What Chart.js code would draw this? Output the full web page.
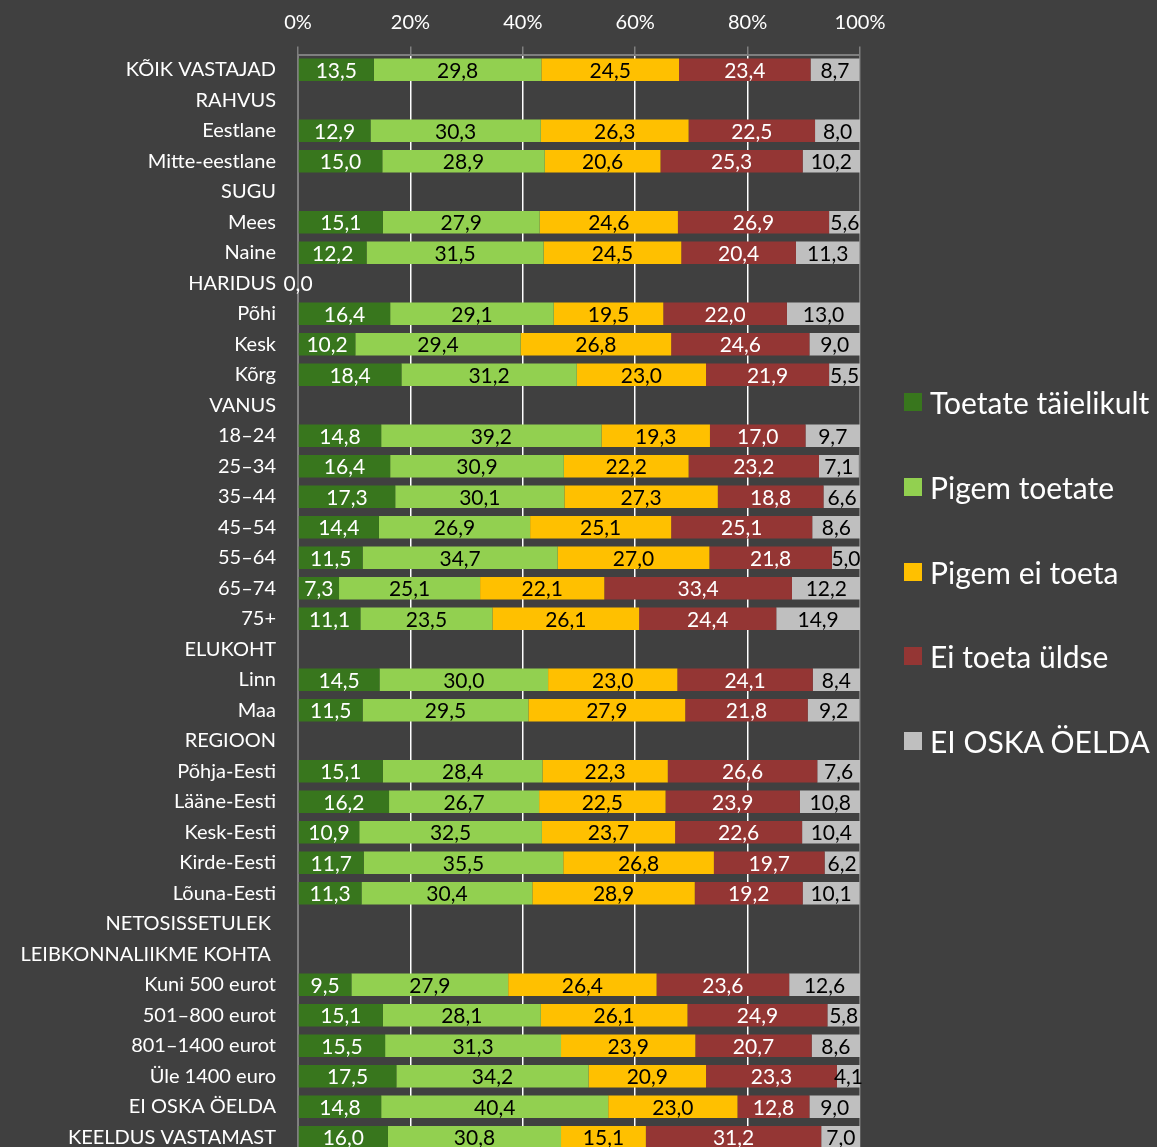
<!DOCTYPE html>
<html>
<head>
<meta charset="utf-8">
<script src="https://cdn.jsdelivr.net/npm/chart.js@4.4.1/dist/chart.umd.min.js"></script>
<style>
html,body{margin:0;padding:0;overflow:hidden;background:#404040;width:1157px;height:1147px;}
#wrap{position:absolute;left:0;top:0;}
#legend{position:absolute;left:904px;top:0;font-family:Lato,"Open Sans",sans-serif;font-size:30px;color:#ffffff;}
.li{position:absolute;left:0;white-space:nowrap;display:flex;align-items:center;height:36px;}
.sw{width:18px;height:18px;margin-right:8px;flex:none;}
</style>
</head>
<body>
<div id="wrap"><canvas id="c" width="1157" height="1153"></canvas></div>
<div id="legend"></div>
<script>
const categories = ["KÕIK VASTAJAD","RAHVUS","Eestlane","Mitte-eestlane","SUGU","Mees","Naine","HARIDUS","Põhi","Kesk","Kõrg","VANUS","18–24","25–34","35–44","45–54","55–64","65–74","75+","ELUKOHT","Linn","Maa","REGIOON","Põhja-Eesti","Lääne-Eesti","Kesk-Eesti","Kirde-Eesti","Lõuna-Eesti","NETOSISSETULEK ","LEIBKONNALIIKME KOHTA ","Kuni 500 eurot","501–800 eurot","801–1400 eurot","Üle 1400 euro","EI OSKA ÖELDA","KEELDUS VASTAMAST"];
const seriesNames = ["Toetate täielikult","Pigem toetate","Pigem ei toeta","Ei toeta üldse","EI OSKA ÖELDA"];
const toetateTaielikult = [13.5,null,12.9,15.0,null,15.1,12.2,0.0,16.4,10.2,18.4,null,14.8,16.4,17.3,14.4,11.5,7.3,11.1,null,14.5,11.5,null,15.1,16.2,10.9,11.7,11.3,null,null,9.5,15.1,15.5,17.5,14.8,16.0];
const pigemToetate = [29.8,null,30.3,28.9,null,27.9,31.5,null,29.1,29.4,31.2,null,39.2,30.9,30.1,26.9,34.7,25.1,23.5,null,30.0,29.5,null,28.4,26.7,32.5,35.5,30.4,null,null,27.9,28.1,31.3,34.2,40.4,30.8];
const pigemEiToeta = [24.5,null,26.3,20.6,null,24.6,24.5,null,19.5,26.8,23.0,null,19.3,22.2,27.3,25.1,27.0,22.1,26.1,null,23.0,27.9,null,22.3,22.5,23.7,26.8,28.9,null,null,26.4,26.1,23.9,20.9,23.0,15.1];
const eiToetaUldse = [23.4,null,22.5,25.3,null,26.9,20.4,null,22.0,24.6,21.9,null,17.0,23.2,18.8,25.1,21.8,33.4,24.4,null,24.1,21.8,null,26.6,23.9,22.6,19.7,19.2,null,null,23.6,24.9,20.7,23.3,12.8,31.2];
const eiOskaOelda = [8.7,null,8.0,10.2,null,5.6,11.3,null,13.0,9.0,5.5,null,9.7,7.1,6.6,8.6,5.0,12.2,14.9,null,8.4,9.2,null,7.6,10.8,10.4,6.2,10.1,null,null,12.6,5.8,8.6,4.1,9.0,7.0];
const xTicks = [0,20,40,60,80,100];

const colors = ["#38761d","#92d050","#ffc000","#943634","#bfbfbf"];
const labelColors = ["#ffffff","#000000","#000000","#ffffff","#000000"];
const seriesData = [toetateTaielikult,pigemToetate,pigemEiToeta,eiToetaUldse,eiOskaOelda];
const FONT = 'Lato, "Open Sans", sans-serif';

const valueLabels = {
  id:'valueLabels',
  afterDatasetsDraw(chart){
    const ctx = chart.ctx;
    ctx.save();
    ctx.font = '21px ' + FONT;
    ctx.textAlign = 'center';
    ctx.textBaseline = 'middle';
    chart.data.datasets.forEach((ds,di)=>{
      const meta = chart.getDatasetMeta(di);
      meta.data.forEach((el,i)=>{
        const v = ds.data[i];
        if (v === null || v === undefined) return;
        const p = el.getProps(['x','y','base'],true);
        ctx.fillStyle = labelColors[di];
        ctx.fillText(v.toFixed(1).replace('.',','), (p.x+p.base)/2, p.y+1);
      });
    });
    ctx.restore();
  }
};

new Chart(document.getElementById('c'),{
  type:'bar',
  data:{
    labels:categories,
    datasets:seriesNames.map((n,i)=>({label:n,data:seriesData[i],backgroundColor:colors[i],borderWidth:0,categoryPercentage:1,barPercentage:0.74}))
  },
  options:{
    indexAxis:'y',
    responsive:false,
    animation:false,
    devicePixelRatio:1,
    layout:{padding:{left:0,right:297,top:0,bottom:0.5}},
    plugins:{legend:{display:false},tooltip:{enabled:false}},
    scales:{
      x:{
        position:'top',stacked:true,min:0,max:100,
        afterFit(s){s.height=54.5;s.paddingLeft=0;s.paddingRight=0;},
        afterBuildTicks(s){s.ticks = xTicks.map(v=>({value:v}));},
        ticks:{color:'#ffffff',font:{family:FONT,size:20},padding:12,callback:v=>v+'%'},
        grid:{color:c=>(c.tick&&(c.tick.value===0||c.tick.value===100))?'#7f7f7f':'#ffffff',lineWidth:1.5,tickColor:'#7f7f7f',tickLength:8,drawTicks:true},
        border:{display:true,color:'#7f7f7f',width:2}
      },
      y:{
        stacked:true,
        afterFit(s){s.width=298;s.paddingTop=0;s.paddingBottom=0;},
        ticks:{color:'#ffffff',font:{family:FONT,size:20},autoSkip:false,padding:22},
        grid:{display:false,drawTicks:false},
        border:{display:true,color:'#7f7f7f',width:2}
      }
    }
  },
  plugins:[valueLabels]
});

const lg = document.getElementById('legend');
const legendCenters = [402,487,571.5,656,740.5];
seriesNames.forEach((n,i)=>{
  const d = document.createElement('div');
  d.className='li';
  d.style.top=(legendCenters[i]-18)+'px';
  d.innerHTML='<span class="sw" style="background:'+colors[i]+'"></span><span></span>';
  d.lastChild.textContent=n;
  lg.appendChild(d);
});
</script>
</body>
</html>
